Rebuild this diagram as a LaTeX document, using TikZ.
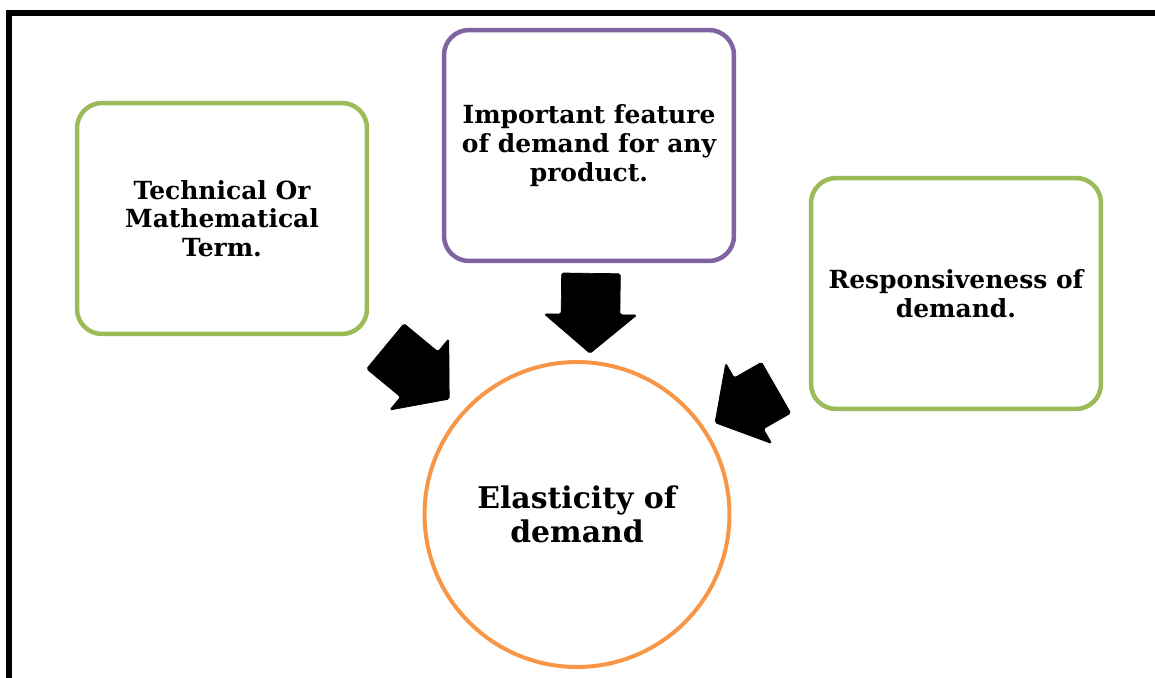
\documentclass[tikz,border=0pt]{standalone}
\usepackage{fontspec}
\setmainfont{DejaVu Serif}
\usetikzlibrary{shapes.arrows}

\definecolor{boxgreen}{RGB}{155,187,89}
\definecolor{boxpurple}{RGB}{128,100,162}
\definecolor{circorange}{RGB}{247,150,70}

\tikzset{
  infobox/.style={draw=#1, line width=0.09cm, rounded corners=0.5cm, fill=white,
    minimum width=5.8cm, minimum height=4.62cm, align=center,
    font=\fontsize{14.2}{16.3}\selectfont\bfseries},
  bigarrow/.style={single arrow, fill=black, draw=black, line width=0.4pt, anchor=tail,
    inner xsep=0pt, inner ysep=0.58cm, single arrow head extend=0.34cm,
    single arrow tip angle=100, minimum height=#1, rounded corners=1pt},
}

\begin{document}
\begin{tikzpicture}[x=0.02cm, y=-0.02cm]
    \useasboundingbox (0,0) rectangle (1155,677);
    \clip (0,0) rectangle (1155,677);

    % outer frame
    \draw[line width=0.12cm] (9,700) -- (9,13) -- (1180,13);

    \node[infobox=boxgreen] (term) at (222,218.5) {Technical Or\\Mathematical\\Term.};
    \node[infobox=boxpurple] (feature) at (589,145.5) {Important feature\\of demand for any\\product.};
    \node[infobox=boxgreen] (response) at (956,293.5) {Responsiveness of\\demand.};

    \node[circle, draw=circorange, line width=0.08cm, minimum size=6.1cm, inner sep=0pt,
      align=center, font=\fontsize{17}{19.5}\selectfont\bfseries] (elastic) at (577,514.5)
      {Elasticity of\\demand};

    % block arrows, placed by their tails
    \node[bigarrow=1.66cm, rotate=-39.6] (termarrow) at (385,346) {};
    \node[bigarrow=1.6cm, rotate=-90.7] (featurearrow) at (591,273) {};
    \node[bigarrow=1.41cm, rotate=209.8] (responsearrow) at (776.5,387.5) {};

\end{tikzpicture}
\end{document}
